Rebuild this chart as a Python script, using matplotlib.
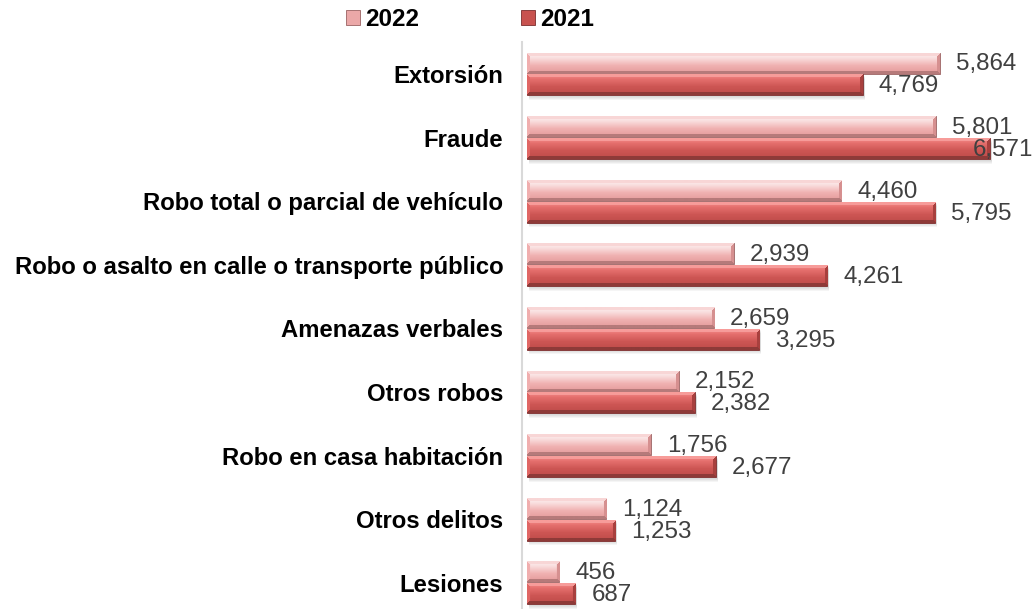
import numpy as np
import matplotlib
matplotlib.use("Agg")
import matplotlib.pyplot as plt
from matplotlib.patches import Patch
from matplotlib.colors import to_rgb

categories = ["Extorsión", "Fraude", "Robo total o parcial de vehículo",
              "Robo o asalto en calle o transporte público", "Amenazas verbales",
              "Otros robos", "Robo en casa habitación", "Otros delitos", "Lesiones"]
values_2022 = [5864, 5801, 4460, 2939, 2659, 2152, 1756, 1124, 456]
values_2021 = [4769, 6571, 5795, 4261, 3295, 2382, 2677, 1253, 687]
series_names = ["2022", "2021"]

plt.rcParams['font.family'] = ['Liberation Sans', 'DejaVu Sans']

W, H, DPI = 1034, 609, 100
fig = plt.figure(figsize=(W / DPI, H / DPI), dpi=DPI)

ax_left_px, ax_right_px = 522, 1020
top_px, bottom_px = 42.2, 614.6
ax = fig.add_axes([ax_left_px / W, 1 - bottom_px / H,
                   (ax_right_px - ax_left_px) / W, (bottom_px - top_px) / H])

xmin, xmax = -71, 7000
y = np.arange(len(categories))
bh = 0.33
off = 0.172

styles = {
    "2022": dict(face=["#FDF2F2", "#F9DCDC", "#F0B2B2", "#E49A9A"],
                 top="#F8D6D6", bottom="#B67A7A", left="#F0AEAE", right="#D69090",
                 edge="#9A6262", legend="#EBA8A8", shadow=False),
    "2021": dict(face=["#F58A88", "#E46E6C", "#CD5654", "#BE4B49"],
                 top="#F79C9A", bottom="#8E3A38", left="#E06664", right="#A8403E",
                 edge="#7A2E2E", legend="#C8524F", shadow=True),
}


def bevel_image(Lpx, Hpx, st, b=3):
    Lpx = max(int(round(Lpx)), 4)
    Hpx = max(int(round(Hpx)), 4)
    stops = [0.0, 0.25, 0.6, 1.0]
    cols = np.array([to_rgb(c) for c in st["face"]])
    t = np.linspace(0, 1, Hpx)
    face = np.stack([np.interp(t, stops, cols[:, k]) for k in range(3)], axis=1)
    img = np.repeat(face[:, None, :], Lpx, axis=1)
    rr, cc = np.mgrid[0:Hpx, 0:Lpx]
    dt, db = rr, Hpx - 1 - rr
    dl, dr = cc, Lpx - 1 - cc
    dmin = np.minimum(np.minimum(dt, db), np.minimum(dl, dr))
    for d, key in [(dl, "left"), (dr, "right"), (dt, "top"), (db, "bottom")]:
        m = (d == dmin) & (d < b)
        img[m] = to_rgb(st[key])
    return img


px_per_unit = (ax_right_px - ax_left_px) / (xmax - xmin)
px_per_cat = (bottom_px - top_px) / len(categories)

annots = []
for name, vals, sgn in [("2022", values_2022, -1), ("2021", values_2021, 1)]:
    st = styles[name]
    if st["shadow"]:
        for k in range(4):
            ax.barh(y + sgn * off + (1.5 + k) / px_per_cat, vals, height=bh,
                    left=2 / px_per_unit, color="#808080", alpha=0.08,
                    linewidth=0, zorder=1.5)
    bars = ax.barh(y + sgn * off, vals, height=bh, color=st["legend"],
                   edgecolor=st["edge"], linewidth=0.6, zorder=2)
    for rect, v in zip(bars, vals):
        x0, y0 = rect.get_x(), rect.get_y()
        w, h = rect.get_width(), rect.get_height()
        img = bevel_image(w * px_per_unit, h * px_per_cat, st)
        im = ax.imshow(img, extent=[x0, x0 + w, y0 + h, y0], origin="upper",
                       aspect="auto", zorder=2.5, interpolation="bilinear")
        im.set_clip_path(rect)
        a = ax.annotate(f"{v:,}", xy=(x0 + w, y0 + h / 2), xytext=(11.5, -1),
                        textcoords="offset points", ha="left", va="center",
                        fontsize=17.4, color="#404040", zorder=5)
        annots.append(a)

ax.set_xlim(xmin, xmax)
ax.set_ylim(len(categories) - 0.5, -0.5)
ax.set_yticks(y)
ax.set_yticklabels(categories, fontsize=17.2, fontweight="bold", color="black")
ax.tick_params(axis="y", length=0, pad=13.5)
ax.set_xticks([])
for s in ["top", "right", "bottom"]:
    ax.spines[s].set_visible(False)
ax.spines["left"].set_color("#D9D9D9")
ax.spines["left"].set_linewidth(1.5)
ax.set_facecolor("none")

# keep value labels inside the figure
fig.canvas.draw()
r = fig.canvas.get_renderer()
for a in annots:
    bb = a.get_window_extent(r)
    if bb.x1 > W - 1:
        shift_pt = (bb.x1 - (W - 1)) * 72 / DPI
        ox, oy = a.xyann
        a.xyann = (ox - shift_pt, oy)

handles = [Patch(facecolor=styles[n]["legend"], edgecolor=styles[n]["edge"], linewidth=0.6)
           for n in series_names]
fig.legend(handles, series_names, loc="center", bbox_to_anchor=(470 / W, 1 - 20 / H),
           ncol=2, frameon=False, handlelength=0.58, handleheight=0.58,
           handletextpad=0.2, columnspacing=4.2,
           prop=dict(size=17.5, weight="bold"))

fig.savefig("out.png", dpi=DPI)
